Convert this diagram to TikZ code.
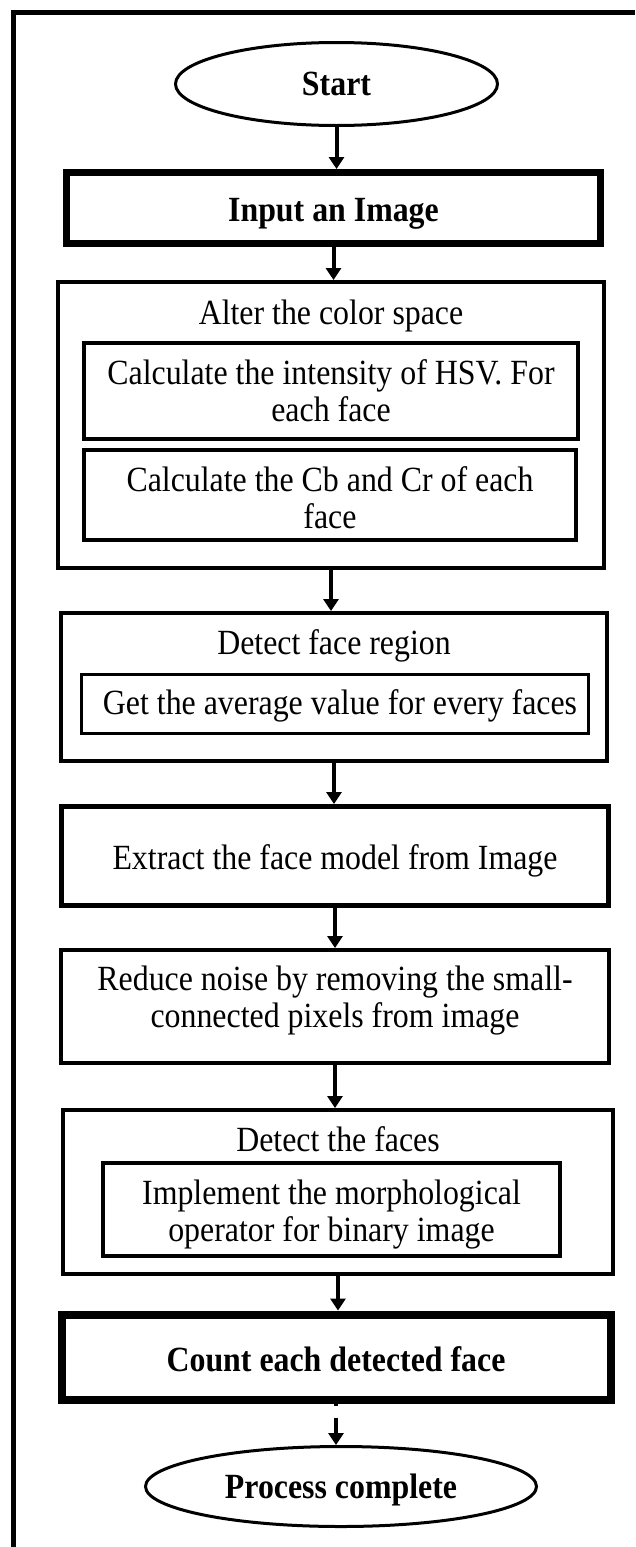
\documentclass[tikz,border=0pt]{standalone}
\usepackage{fontspec}
\setmainfont{Liberation Serif}[FakeStretch=0.9]
\usetikzlibrary{shapes.geometric,arrows.meta}
\newcommand{\bodyfont}{\fontsize{35.4}{37}\selectfont}
\begin{document}
\begin{tikzpicture}[x=1pt,y=-1pt,
  box/.style={draw, rectangle, line width=4pt, inner sep=0pt},
  oval/.style={draw, ellipse, line width=3pt, inner sep=0pt,
    font=\bodyfont\bfseries, text height=23.4pt, text depth=0pt},
  oneline/.style={inner sep=0pt, font=\bodyfont, text height=23.4pt, text depth=0pt},
  twoline/.style={inner sep=0pt, font=\bodyfont, align=center},
  flow/.style={-{Triangle[length=12pt,width=15pt]}, line width=4pt}]
\useasboundingbox (0,0) rectangle (635,1547);
\fill[white] (0,0) rectangle (635,1547);

% outer frame (top and left edges)
\draw[line width=5pt, line join=miter] (13,1547) -- (13,12) -- (635,12);

% start / end terminals
\node[oval, minimum width=322pt, minimum height=83pt] (start) at (336.5,84) {Start};
\node[oval, minimum width=391pt, minimum height=80pt] (done) at (341,1486.5) {Process complete};

% input step
\node[box, line width=7pt, minimum width=534pt, minimum height=71pt] (input) at (333.5,208) {};
\node[oneline, font=\bodyfont\bfseries] (inputtxt) at (333.5,210) {Input an Image};

% colour space conversion
\node[box, minimum width=546pt, minimum height=286pt] (alter) at (331,425) {};
\node[oneline] (altertxt) at (331,313) {Alter the color space};
\node[box, minimum width=494pt, minimum height=96pt] (hsv) at (331,391) {};
\node[twoline] (hsvtxt) at (331,402.7) {\smash{Calculate the intensity of HSV. For}\\\smash{each face}};
\node[box, minimum width=492pt, minimum height=90pt] (cbcr) at (330,495) {};
\node[twoline] (cbcrtxt) at (330,509.7) {\smash{Calculate the Cb and Cr of each}\\\smash{face}};

% face region detection
\node[box, minimum width=546pt, minimum height=148pt] (region) at (334,687) {};
\node[oneline] (regiontxt) at (334,643) {Detect face region};
\node[box, line width=3pt, minimum width=507pt, minimum height=59pt] (avg) at (335,704) {};
\node[oneline] (avgtxt) at (340,703) {Get the average value for every faces};

% face model extraction
\node[box, line width=5pt, minimum width=547pt, minimum height=99pt] (extract) at (335,856) {};
\node[oneline] (extracttxt) at (335,858) {Extract the face model from Image};

% noise reduction
\node[box, minimum width=548pt, minimum height=113pt] (reduce) at (335,1006.5) {};
\node[twoline] (reducetxt) at (335,1009.2) {\smash{Reduce noise by removing the small-}\\\smash{connected pixels from image}};

% face detection
\node[box, minimum width=550pt, minimum height=164pt] (faces) at (338,1192) {};
\node[oneline] (facestxt) at (338,1140) {Detect the faces};
\node[box, minimum width=457pt, minimum height=93pt] (morph) at (331.5,1209.5) {};
\node[twoline] (morphtxt) at (331.5,1223.2) {\smash{Implement the morphological}\\\smash{operator for binary image}};

% counting
\node[box, line width=8pt, minimum width=549pt, minimum height=85pt] (count) at (336,1357) {};
\node[oneline, font=\bodyfont\bfseries] (counttxt) at (336,1360) {Count each detected face};

% connectors
\draw[flow] (start.south) -- (start.south |- input.north);
\draw[flow] (input.south) -- (input.south |- alter.north);
\draw[flow] (alter.south) -- (alter.south |- region.north);
\draw[flow] (region.south) -- (region.south |- extract.north);
\draw[flow] (extract.south) -- (extract.south |- reduce.north);
\draw[flow] (reduce.south) -- (reduce.south |- faces.north);
\draw[flow] (faces.south) -- (faces.south |- count.north);
\draw[flow, dash pattern=on 2pt off 12pt on 40pt] (count.south) -- (count.south |- done.north);
\end{tikzpicture}
\end{document}
